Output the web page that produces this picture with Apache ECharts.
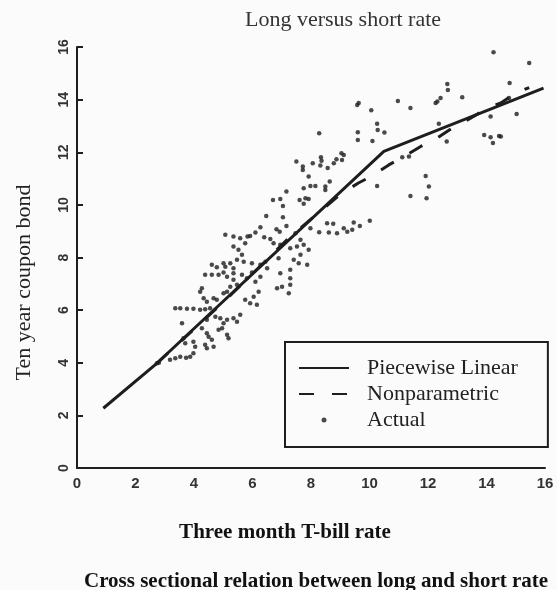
<!DOCTYPE html>
<html>
<head>
<meta charset="utf-8">
<script src="https://cdn.jsdelivr.net/npm/echarts@6/dist/echarts.min.js"></script>
<style>
html,body{margin:0;padding:0;background:#fbfbfb;}
#main{width:557px;height:590px;}
</style>
</head>
<body>
<div id="main"></div>
<script>
// ---- data ----
var chartTitle = 'Long versus short rate';
var xName = 'Three month T-bill rate';
var yName = 'Ten year coupon bond';
var caption = 'Cross sectional relation between long and short rate';
var seriesNames = ['Piecewise Linear', 'Nonparametric', 'Actual'];
var xTickValues = [0, 2, 4, 6, 8, 10, 12, 14, 16];
var yTickValues = [0, 2, 4, 6, 8, 10, 12, 14, 16];

var piecewisePoints = [[0.9, 2.27], [2.73, 3.98], [10.49, 12.03], [15.95, 14.44]];
var nonparamPoints = [[2.73, 3.98], [5.0, 6.3], [7.3, 8.8], [9.0, 10.4], [9.62, 10.83], [10.09, 11.1],
  [10.66, 11.52], [11.18, 11.84], [11.75, 12.22], [12.26, 12.5], [12.83, 12.92], [13.35, 13.23],
  [14.14, 13.74], [14.49, 13.87], [15.0, 14.25], [15.46, 14.46]];

var actualPoints = [
  [9.63,13.87],[9.58,13.8],[10.06,13.6],[10.97,13.95],[11.4,13.68],[12.26,13.87],[8.28,12.72],
  [9.6,12.76],[9.6,12.47],[10.26,13.08],[10.28,12.85],[10.51,12.75],[10.1,12.43],[12.37,13.08],
  [9.04,11.96],[9.12,11.9],[8.34,11.81],[8.36,11.68],[8.87,11.73],[9.06,11.71],[7.5,11.65],
  [8.06,11.58],[8.32,11.5],[7.72,11.46],[7.72,11.33],[8.78,11.58],[8.57,11.4],[7.92,11.08],
  [8.64,10.89],[7.98,10.72],[8.15,10.72],[7.75,10.63],[8.49,10.7],[8.49,10.57],[7.16,10.51],
  [6.7,10.19],[6.95,10.22],[7.04,9.96],[7.61,10.19],[7.81,10.25],[7.92,10.22],[7.75,10.04],
  [6.47,9.58],[7.04,9.53],[7.16,9.2],[6.82,9.07],[6.93,8.98],[6.27,9.15],[6.1,8.95],[5.83,8.8],
  [6.4,8.77],[8.55,9.3],[8.76,9.28],[9.46,9.33],[9.67,9.2],[10.01,9.4],[7.98,9.11],[8.28,8.96],
  [8.61,8.95],[8.89,8.92],[9.12,9.11],[9.24,8.98],[9.41,9.05],[10.26,10.72],[11.4,10.34],
  [11.92,11.1],[12.03,10.7],[11.95,10.25],[11.35,11.84],
  [14.24,15.8],[15.46,15.39],[14.79,14.63],[12.66,14.59],[12.68,14.37],[12.43,14.06],[12.32,13.93],
  [13.17,14.09],[12.64,12.41],[13.92,12.66],[14.14,12.57],[14.43,12.62],[14.49,12.6],[14.22,12.35],
  [14.14,13.36],[15.03,13.45],[14.77,14.06],[11.12,11.81],
  [5.07,8.86],[5.35,8.8],[5.58,8.73],[5.75,8.54],[5.92,8.82],[6.61,8.7],[7.47,8.92],[7.64,8.67],
  [5.35,8.42],[5.52,8.29],[5.64,8.1],[5.47,7.91],
  [4.61,7.72],[4.78,7.63],[5.01,7.78],[5.07,7.65],[5.24,7.78],[5.35,7.59],[5.7,7.84],[5.98,7.78],
  [6.27,7.72],[6.44,7.84],
  [6.72,8.54],[6.95,8.48],[7.29,8.35],[7.52,8.42],[7.75,8.48],[7.92,8.29],
  [7.41,7.91],[7.58,7.78],[7.87,7.72],[7.64,8.1],
  [4.38,7.34],[4.61,7.34],[4.84,7.34],[5.01,7.43],[5.13,7.27],[5.35,7.4],[5.64,7.34],[5.81,7.21],
  [5.98,7.43],[6.27,7.27],[6.1,7.08],[5.35,7.15],[5.47,6.96],[5.24,6.89],[5.13,6.7],[5.01,6.64],
  [6.95,7.4],[7.29,7.53],[7.01,6.89],[7.29,6.96],[7.24,6.64],[6.84,6.83],[7.29,7.21],
  [6.21,6.7],[6.04,6.51],[6.15,6.2],[5.92,6.26],[5.75,6.39],
  [4.27,6.83],[4.21,6.7],[4.33,6.45],[4.44,6.32],[4.67,6.45],[4.78,6.39],
  [3.36,6.07],[3.53,6.07],[3.76,6.05],[3.98,6.05],[4.21,6.01],[4.38,6.03],[4.55,6.07],
  [3.59,5.5],[4.44,5.63],[4.73,5.75],[4.9,5.69],[5.01,5.5],[5.13,5.63],[5.35,5.69],[5.58,5.82],
  [5.47,5.56],[4.27,5.31],[4.44,5.12],[5.13,5.06],[5.18,4.93],[4.96,5.31],[4.84,5.25],
  [3.64,4.93],[3.7,4.74],[3.98,4.8],[4.04,4.61],[4.5,4.99],[4.61,4.87],
  [4.38,4.68],[4.44,4.55],[4.67,4.61],
  [3.18,4.11],[3.36,4.17],[3.53,4.23],[3.73,4.19],[3.87,4.23],[3.98,4.36],
  [2.73,3.98],[2.8,4.0],[6.5,7.59],[6.89,7.97]
];

// ---- chart ----
var ink = '#1e1e1e';
var serif = '"Liberation Serif", "DejaVu Serif", serif';
var sans = '"Liberation Sans", "DejaVu Sans", sans-serif';
var chart = echarts.init(document.getElementById('main'), null, {renderer: 'canvas'});
var hiddenMarker = {color: 'rgba(0,0,0,0)', borderWidth: 0};

chart.setOption({
  backgroundColor: '#fbfbfb',
  animation: false,
  title: [
    {text: chartTitle, left: 338, top: 4, textAlign: 'center',
     textStyle: {fontFamily: serif, fontWeight: 'normal', fontSize: 22, color: '#333'}},
    {text: caption, left: 79, top: 566,
     textStyle: {fontFamily: serif, fontWeight: 'bold', fontSize: 21, color: '#111'}}
  ],
  grid: {left: 77, right: 12, top: 47, bottom: 122, containLabel: false},
  legend: {
    left: 285, top: 342, orient: 'vertical',
    data: [
      {name: seriesNames[0], itemStyle: hiddenMarker},
      {name: seriesNames[1], itemStyle: hiddenMarker},
      {name: seriesNames[2], icon: 'circle'}
    ],
    padding: [15, 30, 16, 13],
    itemGap: 4,
    itemWidth: 50, itemHeight: 5,
    borderColor: ink, borderWidth: 2, borderRadius: 0,
    backgroundColor: '#fbfbfb',
    textStyle: {fontFamily: serif, fontSize: 22, color: '#222', padding: [0, 0, 0, 13]}
  },
  xAxis: {
    type: 'value', min: xTickValues[0], max: xTickValues[xTickValues.length - 1], interval: 2,
    name: xName, nameLocation: 'middle', nameGap: 54,
    nameTextStyle: {fontFamily: serif, fontWeight: 'bold', fontSize: 21, color: '#111', padding: [0, 52, 0, 0]},
    axisLine: {show: true, lineStyle: {color: ink, width: 2}},
    axisTick: {show: false},
    splitLine: {show: false},
    axisLabel: {fontFamily: sans, fontWeight: 'bold', fontSize: 15, color: '#333', margin: 8}
  },
  yAxis: {
    type: 'value', min: yTickValues[0], max: yTickValues[yTickValues.length - 1], interval: 2,
    name: yName, nameLocation: 'middle', nameGap: 42, nameRotate: 90,
    nameTextStyle: {fontFamily: serif, fontSize: 22, color: '#222', padding: [0, 50, 0, 0]},
    axisLine: {show: true, lineStyle: {color: ink, width: 2}},
    axisTick: {show: true, inside: true, length: 6, lineStyle: {color: ink, width: 2}},
    splitLine: {show: false},
    axisLabel: {rotate: 90, fontFamily: sans, fontWeight: 'bold', fontSize: 14, color: '#333', margin: 6}
  },
  series: [
    {name: seriesNames[0], type: 'line', data: piecewisePoints, symbol: 'none',
     lineStyle: {color: ink, width: 3}, itemStyle: {color: ink}, z: 3},
    {name: seriesNames[1], type: 'line', data: nonparamPoints, symbol: 'none',
     lineStyle: {color: ink, width: 3, type: [15, 18]}, itemStyle: {color: ink}, z: 3},
    {name: seriesNames[2], type: 'scatter', data: actualPoints, symbol: 'circle', symbolSize: 4.5,
     itemStyle: {color: ink}, z: 2}
  ]
});
</script>
</body>
</html>
